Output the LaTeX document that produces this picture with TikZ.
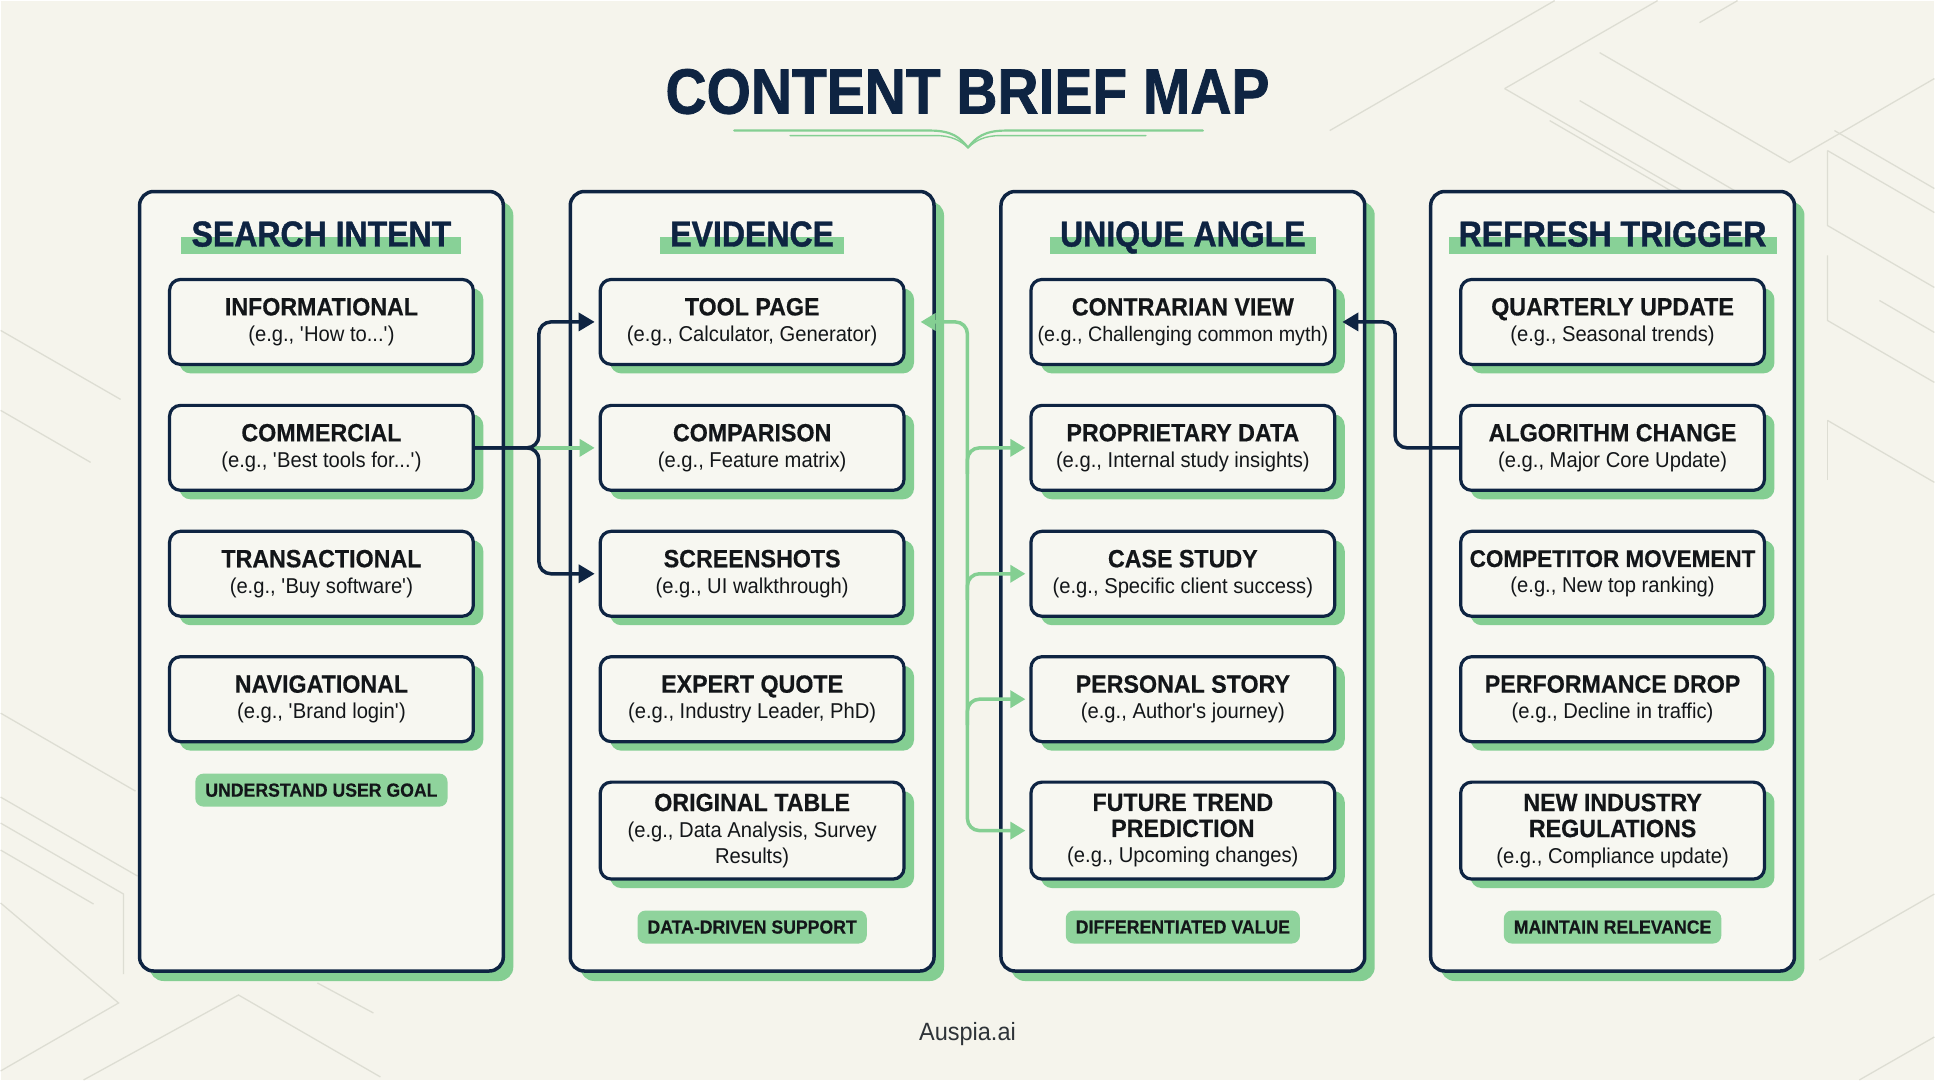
\documentclass[tikz,border=0pt]{standalone}
\usepackage{fontspec}
\setmainfont{Liberation Sans}[FakeStretch=0.94]
\newfontfamily\heavy{Liberation Sans Bold}[FakeStretch=0.89,FakeBold=1.2]
\newfontfamily\lblfont{Liberation Sans Bold}[FakeStretch=0.93,FakeBold=0.4]
\usetikzlibrary{arrows.meta,shadows,calc}

\definecolor{bgcream}{HTML}{F5F4EC}
\definecolor{panelfill}{HTML}{F7F7F1}
\definecolor{navy}{HTML}{0E2442}
\definecolor{shgreen}{HTML}{84CE92}
\definecolor{hlgreen}{HTML}{88D197}
\definecolor{pillgreen}{HTML}{8FD39C}
\definecolor{conngreen}{HTML}{84CF92}
\definecolor{inkdark}{HTML}{131619}
\definecolor{texture}{HTML}{DDDDD3}
\definecolor{footgray}{HTML}{2E3338}

\pgfdeclarelayer{panels}
\pgfdeclarelayer{bars}
\pgfsetlayers{panels,bars,main}

\newcommand\lbl[1]{{\lblfont\fontsize{25}{28}\selectfont #1}}
\newcommand\q{\textquotesingle}

\tikzset{
  panel/.style={draw=navy, line width=3.5pt, fill=panelfill, rounded corners=14pt,
    minimum width=364pt, minimum height=780pt,
    general shadow={fill=shgreen, shadow xshift=10pt, shadow yshift=-10pt}},
  item/.style={draw=navy, line width=3.2pt, fill=panelfill, rounded corners=11pt,
    minimum width=304pt, minimum height=85pt, align=center, text=inkdark, inner sep=0pt,
    font=\fontsize{21.5}{26}\selectfont,
    general shadow={fill=shgreen, shadow xshift=10pt, shadow yshift=-9pt}},
  pill/.style={fill=pillgreen, rounded corners=8pt, minimum height=33pt, inner xsep=10pt,
    inner ysep=0pt, text=inkdark, font=\lblfont\fontsize{19}{22}\selectfont},
  hdr/.style={font=\heavy\fontsize{36}{40}\selectfont, text=navy, inner sep=0pt, anchor=base},
  navyconn/.style={draw=navy, line width=3.5pt, rounded corners=12pt},
  greenconn/.style={draw=conngreen, line width=3.5pt, rounded corners=12pt},
  navyhead/.tip={Triangle[length=16pt,width=18pt]},
  greenhead/.tip={Triangle[length=15pt,width=17pt]},
  texline/.style={draw=texture, line width=1.3pt}
}

\newcommand\colhead[3]{%
  \node[hdr] (#1) at (#2,246) {#3};
  \begin{pgfonlayer}{bars}
    \fill[hlgreen] ($(#1.base west)+(-10,-9)$) rectangle ($(#1.base east)+(10,8)$);
  \end{pgfonlayer}}

\begin{document}
\begin{tikzpicture}[x=1pt,y=-1pt]
\begin{pgfonlayer}{panels}
  \fill[bgcream] (0,0) rectangle (1935,1080);
  % faint isometric texture in the corners
  \draw[texline] (1330,130) -- (1555,0);
  \draw[texline] (1505,88) -- (1658,0);
  \draw[texline] (1505,88) -- (1760,235) -- (1760,300);
  \draw[texline] (1600,52) -- (1790,162) -- (1935,78);
  \draw[texline] (1700,22) -- (1738,0);
  \draw[texline] (1550,120) -- (1700,207);
  \draw[texline] (1580,100) -- (1735,190);
  \draw[texline] (1828,150) -- (1828,225) -- (1935,287);
  \draw[texline] (1828,150) -- (1935,212);
  \draw[texline] (1835,130) -- (1935,188);
  \draw[texline] (1828,255) -- (1828,320) -- (1935,382);
  \draw[texline] (1880,300) -- (1935,332);
  \draw[texline] (1828,420) -- (1935,482);
  \draw[texline] (1828,420) -- (1828,480);
  \draw[texline] (0,713) -- (135,791);
  \draw[texline] (0,797) -- (137,876);
  \draw[texline] (0,823) -- (123,894) -- (123,974);
  \draw[texline] (0,850) -- (93,904);
  \draw[texline] (0,903) -- (118,1003) -- (0,1071);
  \draw[texline] (83,1080) -- (238,995) -- (380,1077);
  \draw[texline] (317,983) -- (373,1013);
  \draw[texline] (0,330) -- (120,399);
  \draw[texline] (0,410) -- (90,462);
  \draw[texline] (1820,960) -- (1935,894);
  \draw[texline] (1860,1080) -- (1935,1037);
  % the four column panels
  \node[panel] (c1) at (321,581) {};
  \node[panel] (c2) at (752,581) {};
  \node[panel] (c3) at (1183,581) {};
  \node[panel] (c4) at (1613,581) {};
\end{pgfonlayer}

% title and ornament
\node[font=\heavy\fontsize{64}{70}\selectfont, text=navy, inner sep=0pt] (title) at (967.5,91) {CONTENT BRIEF MAP};
\draw[conngreen, line width=2.2pt, line cap=round] (734,130) -- (930,130) .. controls (952,130) and (960,137) .. (968,147);
\draw[conngreen, line width=2.2pt, line cap=round] (1203,130) -- (1006,130) .. controls (984,130) and (976,137) .. (968,147);
\draw[conngreen, line width=1.4pt, line cap=round] (790,135) -- (935,135) .. controls (952,135) and (960,140) .. (968,147);
\draw[conngreen, line width=1.4pt, line cap=round] (1146,135) -- (1001,135) .. controls (984,135) and (976,140) .. (968,147);

% column headers
\colhead{h1}{321}{SEARCH INTENT}
\colhead{h2}{752}{EVIDENCE}
\colhead{h3}{1183}{UNIQUE ANGLE}
\colhead{h4}{1613}{REFRESH TRIGGER}

% search intent
\node[item] (inf) at (321,321.5) {\lbl{INFORMATIONAL}\\(e.g., \q How to...\q)};
\node[item] (com) at (321,447.5) {\lbl{COMMERCIAL}\\(e.g., \q Best tools for...\q)};
\node[item] (tra) at (321,573.5) {\lbl{TRANSACTIONAL}\\(e.g., \q Buy software\q)};
\node[item] (nav) at (321,699) {\lbl{NAVIGATIONAL}\\(e.g., \q Brand login\q)};
\node[pill] (p1) at (321,790) {UNDERSTAND USER GOAL};

% evidence
\node[item] (tool) at (752,321.5) {\lbl{TOOL PAGE}\\(e.g., Calculator, Generator)};
\node[item] (cmp) at (752,447.5) {\lbl{COMPARISON}\\(e.g., Feature matrix)};
\node[item] (scr) at (752,573.5) {\lbl{SCREENSHOTS}\\(e.g., UI walkthrough)};
\node[item] (exq) at (752,699) {\lbl{EXPERT QUOTE}\\(e.g., Industry Leader, PhD)};
\node[item, minimum height=97pt] (otab) at (752,830.5) {\lbl{ORIGINAL TABLE}\\(e.g., Data Analysis, Survey\\Results)};
\node[pill] (p2) at (752,927) {DATA-DRIVEN SUPPORT};

% unique angle
\node[item, font=\fontsize{21}{26}\selectfont] (contra) at (1183,321.5) {\lbl{CONTRARIAN VIEW}\\(e.g., Challenging common myth)};
\node[item] (prop) at (1183,447.5) {\lbl{PROPRIETARY DATA}\\(e.g., Internal study insights)};
\node[item] (case) at (1183,573.5) {\lbl{CASE STUDY}\\(e.g., Specific client success)};
\node[item] (pers) at (1183,699) {\lbl{PERSONAL STORY}\\(e.g., Author\q s journey)};
\node[item, minimum height=97pt] (trend) at (1183,830.5) {\lbl{FUTURE TREND}\\\lbl{PREDICTION}\\(e.g., Upcoming changes)};
\node[pill] (p3) at (1183,927) {DIFFERENTIATED VALUE};

% refresh trigger
\node[item] (qua) at (1613,321.5) {\lbl{QUARTERLY UPDATE}\\(e.g., Seasonal trends)};
\node[item] (algo) at (1613,447.5) {\lbl{ALGORITHM CHANGE}\\(e.g., Major Core Update)};
\node[item] (compm) at (1613,573.5) {{\lblfont\fontsize{24.2}{28}\selectfont COMPETITOR MOVEMENT}\\(e.g., New top ranking)};
\node[item] (perf) at (1613,699) {\lbl{PERFORMANCE DROP}\\(e.g., Decline in traffic)};
\node[item, minimum height=97pt] (regs) at (1613,830.5) {\lbl{NEW INDUSTRY}\\\lbl{REGULATIONS}\\(e.g., Compliance update)};
\node[pill] (p4) at (1613,927) {MAINTAIN RELEVANCE};

% commercial intent feeds the evidence column
\draw[greenconn, -greenhead] ($(com.east)+(57,0)$) -- ([xshift=-4pt]cmp.west);
\draw[navyconn, -navyhead] (com.east) -- ++(64,0) |- ([xshift=-4pt]tool.west);
\draw[navyconn, -navyhead] (com.east) -- ++(64,0) |- ([xshift=-4pt]scr.west);

% evidence bus into the unique angle column
\draw[greenconn, greenhead-greenhead] ($(tool.east)+(15,0)$) -| ($(trend.west)+(-62,0)$) -- ([xshift=-4pt]trend.west);
\draw[greenconn, -greenhead] ($(prop.west)+(-62,26)$) |- ([xshift=-4pt]prop.west);
\draw[greenconn, -greenhead] ($(case.west)+(-62,26)$) |- ([xshift=-4pt]case.west);
\draw[greenconn, -greenhead] ($(pers.west)+(-62,26)$) |- ([xshift=-4pt]pers.west);

% algorithm change back to contrarian view
\draw[navyconn, -navyhead] (algo.west) -- ++(-64,0) |- ($(contra.east)+(6,0)$);

% footer
\node[font=\fontsize{25}{28}\selectfont, text=footgray] (foot) at (967.5,1034) {Auspia.ai};
\end{tikzpicture}
\end{document}
